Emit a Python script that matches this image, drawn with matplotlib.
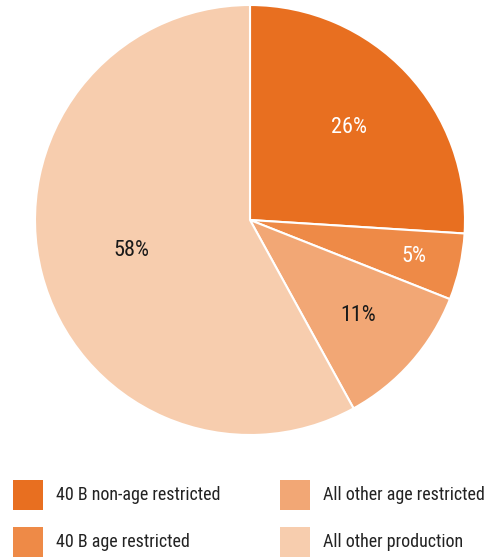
import matplotlib
matplotlib.use("Agg")
import matplotlib.pyplot as plt
import matplotlib.patches as mpatches
import numpy as np
from matplotlib import font_manager
import os

categories = ["40 B non-age restricted", "40 B age restricted",
              "All other age restricted", "All other production"]
values = [26, 5, 11, 58]
labels = ["26%", "5%", "11%", "58%"]
colors = ["#E86F20", "#EE8A47", "#F2A775", "#F7CDAE"]
label_colors = ["white", "white", "#1a1a1a", "#1a1a1a"]
label_radius = [0.63, 0.78, 0.67, 0.57]

def find_font(keys):
    files = [f.fname for f in font_manager.fontManager.ttflist]
    for k in keys:
        for p in files:
            if os.path.basename(p).lower() == k:
                return font_manager.FontProperties(fname=p)
    return None

fp = find_font(["robotocondensed-regular.ttf", "dejavusanscondensed.ttf"]) \
    or font_manager.FontProperties(family="DejaVu Sans")

W, H = 487, 560
fig = plt.figure(figsize=(W / 100, H / 100), dpi=100)
cx, cy, r = 250, 220, 215
ax = fig.add_axes([(cx - r) / W, (H - cy - r) / H, 2 * r / W, 2 * r / H])
wedges, _ = ax.pie(values, colors=colors, startangle=90, counterclock=False,
                   radius=1, wedgeprops=dict(edgecolor="white", linewidth=1.5))
ax.set_xlim(-1, 1)
ax.set_ylim(-1, 1)
ax.set_aspect("equal")
for w, lab, lc, lr in zip(wedges, labels, label_colors, label_radius):
    ang = np.deg2rad((w.theta1 + w.theta2) / 2)
    t = ax.text(lr * np.cos(ang), lr * np.sin(ang), lab, ha="center", va="center",
                color=lc, fontproperties=fp)
    t.set_fontsize(16)

pos = [(13, 480), (13, 527), (280, 480), (280, 527)]
for (x, y), c, name in zip(pos, colors, categories):
    fig.patches.append(mpatches.Rectangle((x / W, (H - y - 30) / H), 30 / W, 30 / H,
                                          transform=fig.transFigure, facecolor=c,
                                          edgecolor="none"))
    t = fig.text((x + 43) / W, (H - y - 15) / H, name, ha="left", va="center",
                 color="#222222", fontproperties=fp)
    t.set_fontsize(13)

fig.savefig("out.png", dpi=100)
